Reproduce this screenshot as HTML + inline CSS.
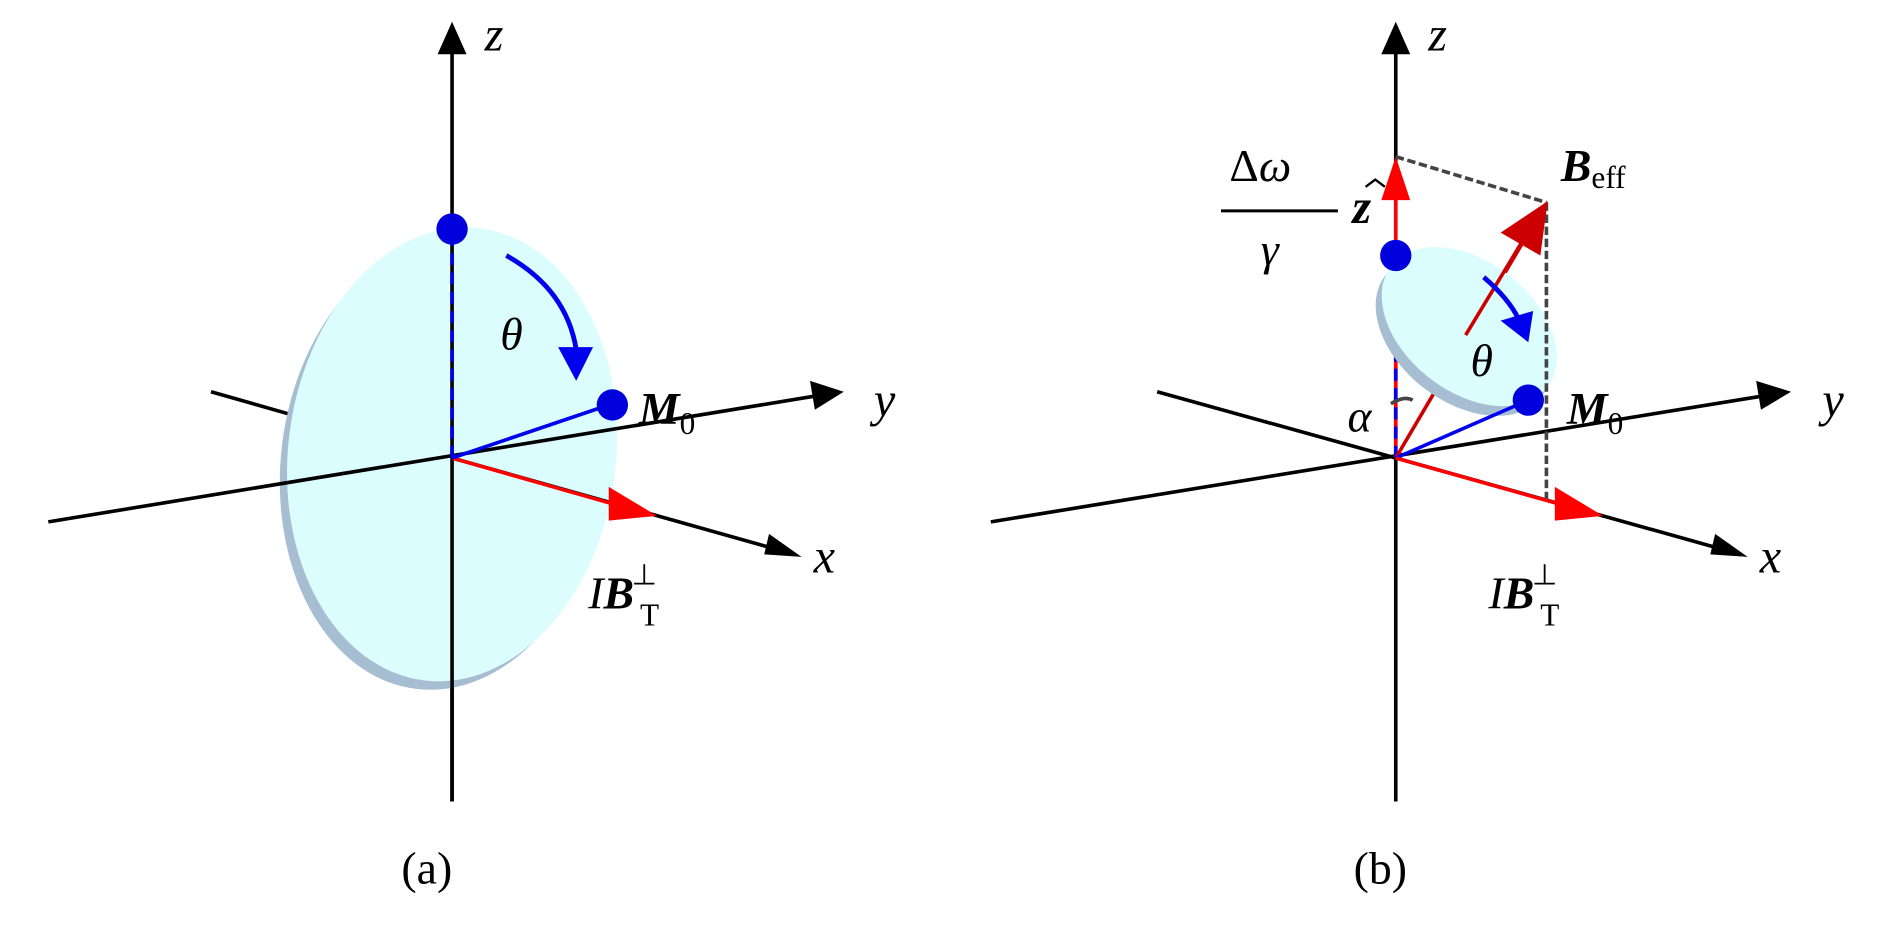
<!DOCTYPE html>
<html><head><style>body{margin:0;background:#fff}text{font-family:"Liberation Serif",serif}</style></head><body>
<svg width="1890" height="922" viewBox="0 0 1568 765" xmlns="http://www.w3.org/2000/svg">
<!-- LEFT PANEL -->
<line x1="375" y1="665" x2="375" y2="40" stroke="#000" stroke-width="3"/>
<path d="M363,45L375,18L387,45z" fill="#000"/>
<line x1="175" y1="325" x2="245" y2="345" stroke="#000" stroke-width="3"/>
<ellipse cx="368" cy="385" rx="135" ry="188" transform="rotate(7 368 385)" fill="#a7bdd2"/>
<ellipse cx="375" cy="377" rx="136" ry="189" transform="rotate(7 375 377)" fill="#dbfdfd"/>
<line x1="40" y1="433" x2="680" y2="328" stroke="#000" stroke-width="3"/>
<path d="M672,316L700,325L676,340z" fill="#000"/>
<line x1="375" y1="380" x2="375" y2="665" stroke="#000" stroke-width="3"/>
<line x1="375" y1="380" x2="375" y2="190" stroke="#000" stroke-width="3"/>
<line x1="375" y1="380" x2="375" y2="190" stroke="#0000ee" stroke-width="3" stroke-dasharray="10,6"/>
<line x1="375" y1="380" x2="645" y2="456" stroke="#000" stroke-width="3"/>
<path d="M638,443L665,462L634,460z" fill="#000"/>
<line x1="375" y1="380" x2="515" y2="420" stroke="#ff0000" stroke-width="3"/>
<path d="M505,404L545,428L505,432z" fill="#ff0000"/>
<line x1="375" y1="380" x2="508" y2="335" stroke="#0000ee" stroke-width="3"/>
<circle cx="375" cy="190" r="13" fill="#0000dd"/>
<circle cx="508" cy="336" r="13" fill="#0000dd"/>
<path d="M420,212 Q470,240 478,290" stroke="#0000ee" stroke-width="4" fill="none"/>
<path d="M463,288L492,288L478,316z" fill="#0000ee"/>
<text x="415" y="290" font-size="38" font-style="italic">θ</text>
<text x="530" y="352" font-size="38" font-style="italic" font-weight="bold">M<tspan font-size="26" font-style="normal" font-weight="normal" dy="8">0</tspan></text>
<text x="488" y="505" font-size="38" font-style="italic">I<tspan font-weight="bold">B</tspan><tspan font-size="24" font-style="normal" dx="-2" dy="-20">⊥</tspan><tspan font-size="26" font-style="normal" dx="-14" dy="34">T</tspan></text>
<text x="402" y="42" font-size="40" font-style="italic">z</text>
<text x="725" y="345" font-size="40" font-style="italic">y</text>
<text x="675" y="475" font-size="40" font-style="italic">x</text>
<text x="333" y="733" font-size="38">(a)</text>
<!-- RIGHT PANEL -->
<line x1="1158" y1="665" x2="1158" y2="40" stroke="#000" stroke-width="3"/>
<path d="M1146,45L1158,18L1170,45z" fill="#000"/>
<line x1="822" y1="433" x2="1466" y2="328" stroke="#000" stroke-width="3"/>
<path d="M1457,316L1486,325L1461,340z" fill="#000"/>
<line x1="960" y1="325" x2="1158" y2="380" stroke="#000" stroke-width="3"/>
<line x1="1158" y1="380" x2="1430" y2="456" stroke="#000" stroke-width="3"/>
<path d="M1423,443L1450,462L1419,460z" fill="#000"/>
<line x1="1158" y1="380" x2="1158" y2="160" stroke="#ff0000" stroke-width="3"/>
<path d="M1146,166L1158,130L1170,166z" fill="#ff0000"/>
<line x1="1158" y1="380" x2="1158" y2="280" stroke="#0000ee" stroke-width="3" stroke-dasharray="10,6"/>
<line x1="1158" y1="380" x2="1270" y2="190" stroke="#cc0000" stroke-width="3"/>
<ellipse cx="1214" cy="279" rx="82" ry="54" transform="rotate(38 1214 279)" fill="#a7bdd2"/>
<ellipse cx="1219" cy="271" rx="82" ry="54" transform="rotate(38 1219 271)" fill="#dbfdfd"/>
<line x1="1158" y1="130" x2="1283" y2="168" stroke="#444" stroke-width="3" stroke-dasharray="7,3"/>
<line x1="1283" y1="168" x2="1283" y2="415" stroke="#444" stroke-width="3" stroke-dasharray="7,3"/>
<line x1="1216" y1="278" x2="1268" y2="192" stroke="#cc0000" stroke-width="3"/>
<path d="M1245,193L1284,167L1278,212z" fill="#cc0000"/>
<path d="M1154,335 Q1165,328 1172,332" stroke="#444" stroke-width="3" fill="none"/>
<line x1="1158" y1="380" x2="1268" y2="332" stroke="#0000ee" stroke-width="3"/>
<circle cx="1158" cy="212" r="13" fill="#0000dd"/>
<circle cx="1268" cy="332" r="13" fill="#0000dd"/>
<path d="M1231,230 Q1252,248 1260,265" stroke="#0000ee" stroke-width="4" fill="none"/>
<path d="M1245,266L1272,258L1268,284z" fill="#0000ee"/>
<text x="1220" y="312" font-size="38" font-style="italic">θ</text>
<line x1="1158" y1="380" x2="1300" y2="420" stroke="#ff0000" stroke-width="3"/>
<path d="M1290,404L1330,428L1290,432z" fill="#ff0000"/>
<text x="1118" y="358" font-size="38" font-style="italic">α</text>
<text x="1020" y="150" font-size="38">Δ<tspan font-style="italic">ω</tspan></text>
<line x1="1013" y1="175" x2="1110" y2="175" stroke="#000" stroke-width="2.5"/>
<text x="1046" y="220" font-size="38" font-style="italic">γ</text>
<text x="1122" y="185" font-size="40" font-style="italic" font-weight="bold">z</text>
<path d="M1133,155L1141,149L1149,155" stroke="#000" stroke-width="2" fill="none"/>
<text x="1295" y="150" font-size="38" font-style="italic" font-weight="bold">B<tspan font-size="26" font-style="normal" font-weight="normal" dy="6">eff</tspan></text>
<text x="1300" y="352" font-size="38" font-style="italic" font-weight="bold">M<tspan font-size="26" font-style="normal" font-weight="normal" dy="8">0</tspan></text>
<text x="1235" y="505" font-size="38" font-style="italic">I<tspan font-weight="bold">B</tspan><tspan font-size="24" font-style="normal" dx="-2" dy="-20">⊥</tspan><tspan font-size="26" font-style="normal" dx="-14" dy="34">T</tspan></text>
<text x="1185" y="42" font-size="40" font-style="italic">z</text>
<text x="1512" y="345" font-size="40" font-style="italic">y</text>
<text x="1460" y="475" font-size="40" font-style="italic">x</text>
<text x="1123" y="733" font-size="38">(b)</text>
</svg>
</body></html>
